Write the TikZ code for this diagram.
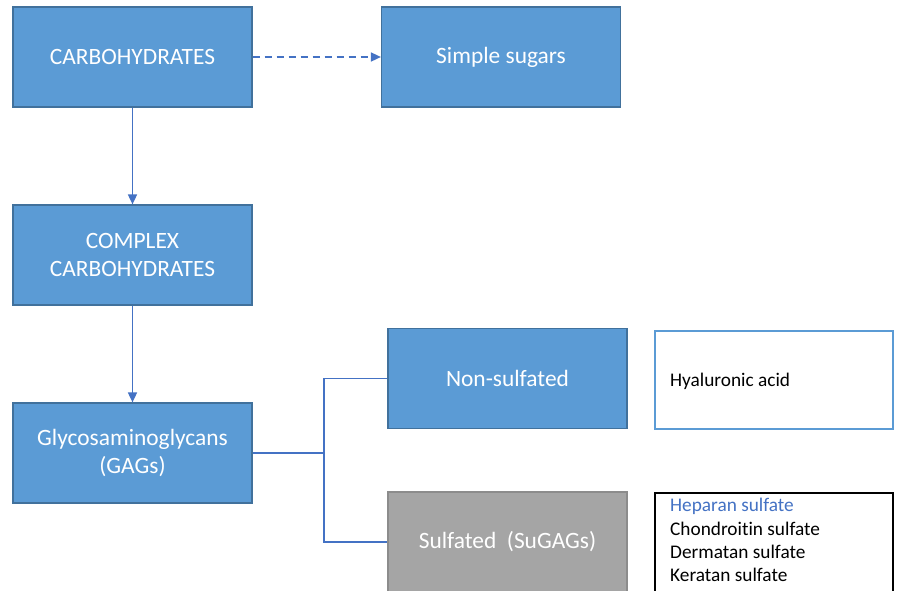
\documentclass[tikz,border=0pt]{standalone}
\usepackage{fontspec}
\setmainfont[Ligatures=NoCommon]{Carlito}
\usetikzlibrary{arrows.meta}
\definecolor{boxblue}{HTML}{5B9BD5}
\definecolor{boxedge}{HTML}{41719C}
\definecolor{linkblue}{HTML}{4472C4}
\definecolor{boxgray}{HTML}{A5A5A5}
\definecolor{grayedge}{HTML}{8C8C8C}
\begin{document}
\begin{tikzpicture}[x=1pt,y=-1pt,
  bluebox/.style={draw=boxedge,line width=1.2pt,fill=boxblue,text=white,
    minimum width=239pt,minimum height=100pt,inner sep=0pt,align=center,
    font=\fontsize{23.4}{28}\selectfont},
  graybox/.style={bluebox,draw=grayedge,fill=boxgray},
  listbox/.style={draw,minimum width=238pt,inner sep=0pt},
  link/.style={draw=linkblue,line width=1.6pt},
  arr/.style={link,-{Triangle[length=10pt,width=9pt]}},
  listtext/.style={anchor=west,inner sep=0pt,font=\fontsize{19.3}{23}\selectfont}
]
\useasboundingbox[fill=white] (0,0) rectangle (898,590);
\node[bluebox] (carb) at (132.5,57) {CARBOHYDRATES};
\node[bluebox] (simple) at (501,57) {Simple sugars};
\node[bluebox] (complex) at (132.5,255) {COMPLEX\\CARBOHYDRATES};
\node[bluebox] (gag) at (132.5,453) {Glycosaminoglycans\\(GAGs)};
\node[bluebox] (non) at (507.5,378.5) {Non-sulfated};
\node[graybox] (sul) at (507.5,542) {Sulfated\ \ (SuGAGs)};
\node[listbox,draw=boxblue,line width=1.2pt,minimum height=98pt] (hya) at (774,380) {};
\node[listbox,draw=black,line width=1.5pt,minimum height=100pt] (lst) at (774,543) {};
\node[listtext] (hyat) at (670,381) {Hyaluronic acid};
\node[listtext,text=linkblue] (l1) at (670,506) {Heparan sulfate};
\node[listtext] (l2) at (670,529) {Chondroitin sulfate};
\node[listtext] (l3) at (670,552) {Dermatan sulfate};
\node[listtext] (l4) at (670,575) {Keratan sulfate};
\draw[arr,dashed,dash pattern=on 7pt off 5pt] (carb.east) -- (simple.west);
\draw[arr] (carb.south) -- (complex.north);
\draw[arr] (complex.south) -- (gag.north);
\coordinate (split) at (324,453);
\draw[link] (gag.east) -- (split) |- (non.west);
\draw[link] (split) |- (sul.west);
\end{tikzpicture}
\end{document}
